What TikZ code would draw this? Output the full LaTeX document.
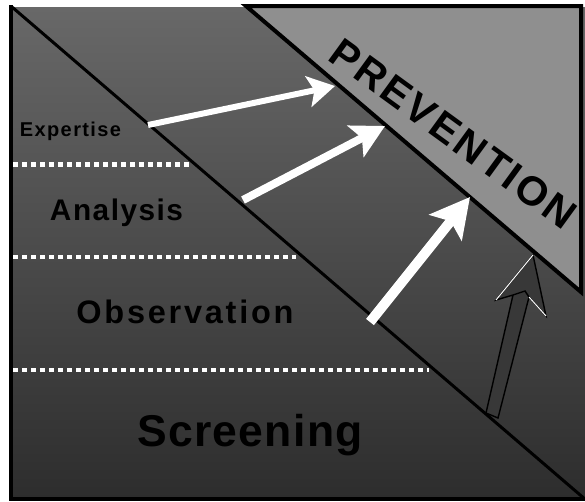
\documentclass[tikz,border=0pt]{standalone}
\usepackage{fontspec}
\setmainfont{Liberation Sans}
\usetikzlibrary{arrows.meta}
\definecolor{bgtop}{RGB}{104,104,104}
\definecolor{bgbot}{RGB}{45,45,45}
\definecolor{prevgray}{RGB}{143,143,143}
\definecolor{darkarrow}{RGB}{56,56,56}
\newcommand{\lblfont}[2]{\bfseries\fontsize{#1}{#1}\selectfont\addfontfeature{LetterSpace=#2}}
\begin{document}
\begin{tikzpicture}[x=1pt,y=-1pt,
  lbl/.style={text=black, inner sep=0pt, anchor=base},
  dots/.style={white, line width=4.3pt, dash pattern=on 4.5pt off 4.5pt},
  warrow/.style={white, line cap=butt}]
\useasboundingbox[fill=white] (0,0) rectangle (585,501);
% background box
\shade[top color=bgtop, bottom color=bgbot] (11,7) rectangle (586,499);
\draw[line width=4pt] (11,5) -- (11,499) -- (586,499);
% diagonal
\coordinate (dA) at (12,7);
\coordinate (dB) at (586,500);
\draw[line width=3pt] (dA) -- (dB);
% prevention triangle
\draw[line width=4pt, fill=prevgray] (246,6) -- (581,6) -- (581,292) -- cycle;
% dotted separators
\draw[dots] (13,164.5) -- (193,164.5);
\draw[dots] (13,256.7) -- (296,256.7);
\draw[dots] (13,370) -- (429,370);
% labels
\node[lbl, font=\lblfont{20}{7}] (exp) at (70.5,136.7) {Expertise};
\node[lbl, font=\lblfont{29.8}{5}] (ana) at (116.5,220.7) {Analysis};
\node[lbl, font=\lblfont{32.5}{8.5}] (obs) at (185,323.5) {Observation};
\node[lbl, font=\lblfont{44.5}{3}] (scr) at (250,446.5) {Screening};
\node[lbl, rotate=-36, font=\lblfont{41}{7}] (prev) at (445,145) {PREVENTION};
% white arrows
\coordinate (a1s) at (148,125);
\coordinate (a1e) at (335,86);
\coordinate (a2s) at (243,200);
\coordinate (a2e) at (385,126);
\coordinate (a3s) at (370,322);
\coordinate (a3e) at (470,197);
\draw[warrow, line width=6pt, -{Stealth[length=27pt,width=31pt,inset=6pt]}] (a1s) -- (a1e);
\draw[warrow, line width=8pt, -{Stealth[length=33pt,width=35pt,inset=7pt]}] (a2s) -- (a2e);
\draw[warrow, line width=10pt, -{Stealth[length=39pt,width=41pt,inset=8pt]}] (a3s) -- (a3e);
% dark upward arrow
\draw[fill=darkarrow, line width=1.4pt] (486,413) -- (513,295) -- (496,300) -- (533,255) -- (546,316) -- (529,297) -- (498,418) -- cycle;
\draw[line width=1.4pt] (513,295) -- (525,291) -- (529,297);
\draw[white, line width=1pt] (496,300) -- (533,255);
\draw[white, line width=1pt] (529,297) -- (546,316);
\end{tikzpicture}
\end{document}
